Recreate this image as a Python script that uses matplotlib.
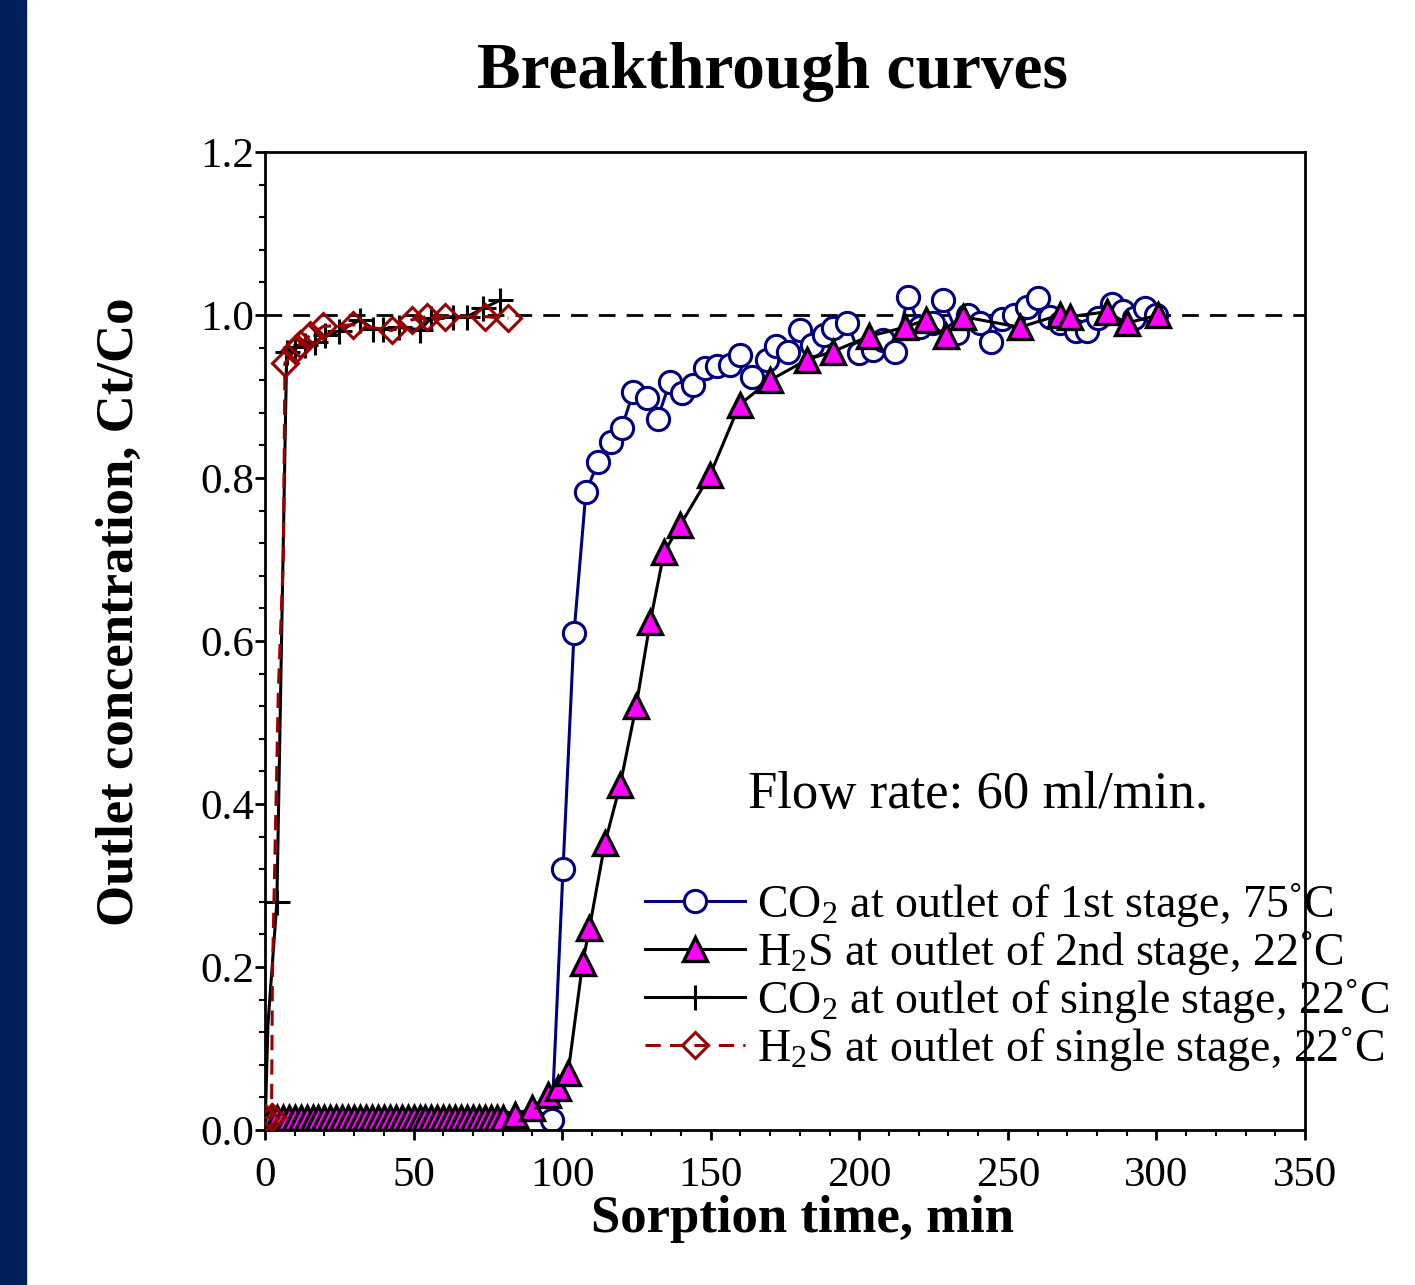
import matplotlib
matplotlib.use('Agg')
import matplotlib.pyplot as plt
from matplotlib.patches import Rectangle
from matplotlib.ticker import MultipleLocator

plt.rcParams['font.family'] = ['Liberation Serif', 'DejaVu Serif']
plt.rcParams['mathtext.default'] = 'regular'

# CO2 at outlet of 1st stage, 75C (open navy circles)
co2_1st_t = [0, 4, 8, 12, 16, 20, 24, 28, 32, 36, 40, 44, 48, 52, 56, 60, 64, 68, 72, 76,
             80, 84, 87, 91, 96.5, 100.3, 104, 108, 112.2, 116.5, 120, 124, 128.4, 132.1,
             136.3, 140.2, 144.2, 148, 152, 156.5, 160, 164, 168.8, 172, 176, 180, 184,
             188, 191, 196, 200, 204.6, 208, 212, 216.4, 220.4, 224.8, 228.2, 232.9,
             236.6, 240.6, 244.2, 248, 251.9, 256.4, 260.2, 264.2, 267.6, 273, 276.5,
             280.4, 285, 288.8, 292.5, 296.2, 300]
co2_1st_y = [0.01, 0.01, 0.01, 0.01, 0.01, 0.01, 0.01, 0.01, 0.01, 0.01, 0.01, 0.01, 0.01,
             0.01, 0.01, 0.01, 0.01, 0.01, 0.01, 0.01, 0.01, 0.01, 0.01, 0.01, 0.012,
             0.32, 0.61, 0.783, 0.82, 0.844, 0.861, 0.906, 0.898, 0.873, 0.918, 0.904,
             0.914, 0.935, 0.937, 0.939, 0.951, 0.924, 0.945, 0.962, 0.955, 0.982, 0.963,
             0.975, 0.984, 0.99, 0.953, 0.957, 0.969, 0.955, 1.022, 0.985, 0.99, 1.018,
             0.978, 1.0, 0.99, 0.967, 0.995, 1.0, 1.01, 1.021, 0.998, 0.99, 0.98, 0.98,
             0.996, 1.014, 1.005, 0.996, 1.008, 1.0]

# H2S at outlet of 2nd stage, 22C (magenta triangles)
h2s_2nd_t = [0, 2, 4, 6, 8, 10, 12, 14, 16, 18, 20, 22, 24, 26, 28, 30, 32, 34, 36, 38,
             40, 42, 44, 46, 48, 50, 52, 54, 56, 58, 60, 62, 64, 66, 68, 70, 72, 74, 76,
             78, 80, 84, 89.7, 95.4, 98.7, 102, 106.9, 109.2, 114.4, 119.5, 124.9, 129.6,
             134.3, 139.7, 149.8, 159.7, 170, 182.3, 191, 203.4, 215.4, 222.5, 229.2,
             234.8, 254, 267.4, 271, 283.3, 290, 300.6]
h2s_2nd_y = [0.015, 0.015, 0.015, 0.015, 0.015, 0.015, 0.015, 0.015, 0.015, 0.015, 0.015,
             0.015, 0.015, 0.015, 0.015, 0.015, 0.015, 0.015, 0.015, 0.015, 0.015, 0.015,
             0.015, 0.015, 0.015, 0.015, 0.015, 0.015, 0.015, 0.015, 0.015, 0.015, 0.015,
             0.015, 0.015, 0.015, 0.015, 0.015, 0.015, 0.015, 0.015, 0.018, 0.027, 0.043,
             0.051, 0.07, 0.205, 0.248, 0.352, 0.423, 0.52, 0.623, 0.709, 0.742, 0.804,
             0.89, 0.92, 0.945, 0.955, 0.974, 0.985, 0.994, 0.974, 0.998, 0.985, 1.0,
             0.998, 1.004, 0.99, 1.0]

# CO2 at outlet of single stage, 22C (black plus)
co2_single_t = [0, 1, 4, 7.3, 10, 13.5, 16.8, 20.2, 25, 32, 36.4, 39.8, 45, 52, 56, 63.4,
                68, 73.4, 79]
co2_single_y = [0.0, 0.13, 0.28, 0.955, 0.961, 0.963, 0.967, 0.975, 0.98, 0.994, 0.983,
                0.983, 0.985, 0.982, 0.996, 0.998, 0.998, 1.008, 1.018]

# H2S at outlet of single stage, 22C (dark red diamonds, dashed)
h2s_single_t = [0, 2.2, 2.5, 4.5, 6.2, 6.7, 10.1, 11.8, 15.1, 19.6, 29.7, 42.6, 49.4,
                54.4, 60.6, 74, 81.9]
h2s_single_y = [0.015, 0.016, 0.19, 0.54, 0.705, 0.941, 0.957, 0.965, 0.975, 0.986,
                0.988, 0.981, 0.994, 0.998, 0.998, 0.998, 0.996]
h2s_single_marked = [0, 1, 5, 6, 7, 8, 9, 10, 11, 12, 13, 14, 15, 16]

labels = ['CO$_2$ at outlet of 1st stage, 75˚C',
          'H$_2$S at outlet of 2nd stage, 22˚C',
          'CO$_2$ at outlet of single stage, 22˚C',
          'H$_2$S at outlet of single stage, 22˚C']

fig = plt.figure(figsize=(14.15, 12.85), dpi=100)
fig.patches.append(Rectangle((0, 0), 26 / 1415, 1, transform=fig.transFigure,
                             color='#00205b', zorder=0))
ax = fig.add_axes([265 / 1415, 1 - 1130 / 1285, 1040 / 1415, 978 / 1285])

ax.axhline(1.0, color='black', lw=2, ls=(0, (6, 4)), zorder=1)

ax.plot(co2_1st_t, co2_1st_y, color='#000080', lw=2.2, marker='o', ms=16,
        mfc='white', mec='#000080', mew=2.2, label=labels[0], zorder=2)
ax.plot(h2s_2nd_t, h2s_2nd_y, color='black', lw=2.2, marker='^', ms=17,
        mfc='#ff00ff', mec='black', mew=2.4, label=labels[1], zorder=3)
ax.plot(co2_single_t, co2_single_y, color='black', lw=2.2, marker='+', ms=18,
        mew=2.2, markevery=list(range(2, len(co2_single_t))), label=labels[2], zorder=4)
ax.plot(h2s_single_t, h2s_single_y, color='#990000', lw=2.2, ls=(0, (5, 3)),
        marker='D', ms=13, mfc='none', mec='#990000', mew=2.2,
        markevery=h2s_single_marked, label=labels[3], zorder=5)

ax.set_xlim(0, 350)
ax.set_ylim(0, 1.2)
ax.xaxis.set_major_locator(MultipleLocator(50))
ax.xaxis.set_minor_locator(MultipleLocator(10))
ax.yaxis.set_major_locator(MultipleLocator(0.2))
ax.yaxis.set_minor_locator(MultipleLocator(0.04))
ax.set_yticklabels(['%.1f' % v for v in ax.get_yticks()])
ax.tick_params(which='major', direction='out', length=7, width=2, labelsize=31)
ax.tick_params(which='minor', direction='out', length=4.5, width=1.5)
ax.tick_params(axis='y', pad=1)
ax.tick_params(axis='x', pad=12)
for s in ax.spines.values():
    s.set_linewidth(2)

ax.set_xlabel('Sorption time, min', fontsize=38, fontweight='bold')
ax.xaxis.set_label_coords(0.517, -0.104)
ax.xaxis.label.set_va('baseline')
ax.set_ylabel('Outlet concentration, Ct/Co', fontsize=38, fontweight='bold')
ax.yaxis.set_label_coords(-0.139, 0.53)
ax.yaxis.label.set_va('center')

ax.text(162.6, 0.395, 'Flow rate: 60 ml/min.', fontsize=38, ha='left', va='baseline')

ax.legend(loc='upper left', bbox_to_anchor=(0.365, 0.255), frameon=False, fontsize=33,
          handlelength=2.2, handletextpad=0.25, labelspacing=0.0, borderpad=0,
          borderaxespad=0)

fig.text(0.546, 0.944, 'Breakthrough curves', fontsize=47, fontweight='bold',
         ha='center', va='center')

fig.savefig('out.png', dpi=100)
